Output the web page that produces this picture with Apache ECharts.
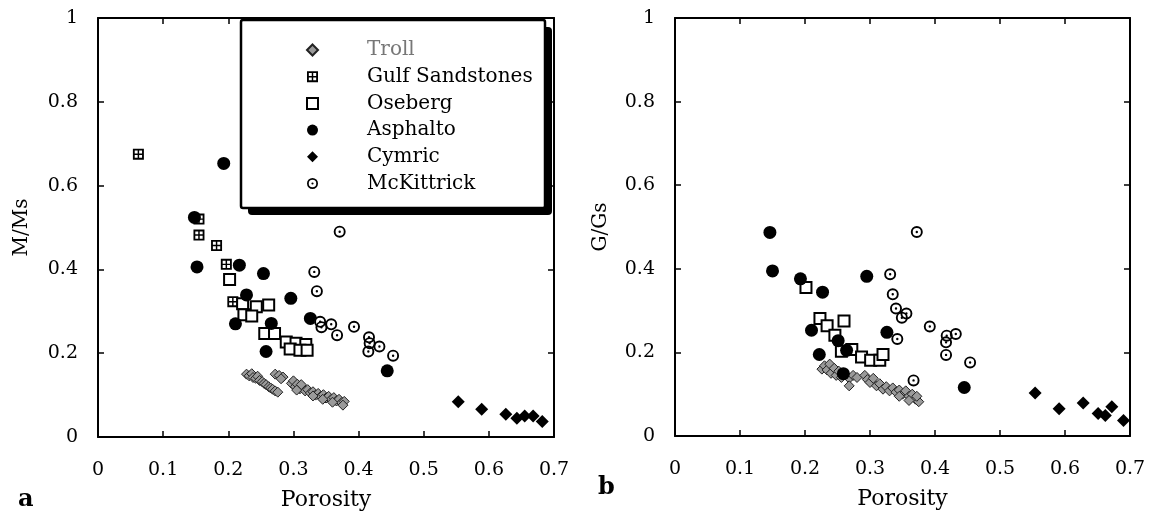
<!DOCTYPE html>
<html><head><meta charset="utf-8">
<script src="https://cdn.jsdelivr.net/npm/echarts@6/dist/echarts.min.js"></script>
<style>html,body{margin:0;padding:0;background:#fff}#c{width:1150px;height:518px}</style>
</head><body><div id="c"></div>
<script>
// ---- tick labels ----
const xTickLabels = ['0','0.1','0.2','0.3','0.4','0.5','0.6','0.7'];
const yTickLabels = ['0','0.2','0.4','0.6','0.8','1'];
const seriesNames = ['Troll','Gulf Sandstones','Oseberg','Asphalto','Cymric','McKittrick'];

// ---- panel a : M/Ms vs porosity ----
const trollA = [[0.228,0.150],[0.232,0.146],[0.236,0.151],[0.238,0.142],[0.242,0.140],[0.245,0.145],[0.248,0.135],[0.252,0.132],[0.255,0.128],[0.258,0.125],[0.262,0.120],[0.265,0.117],[0.268,0.114],[0.272,0.110],[0.276,0.107],[0.272,0.150],[0.278,0.147],[0.284,0.143],[0.281,0.139],[0.297,0.128],[0.300,0.134],[0.303,0.120],[0.306,0.126],[0.310,0.115],[0.314,0.119],[0.318,0.110],[0.322,0.113],[0.326,0.105],[0.330,0.108],[0.334,0.100],[0.338,0.104],[0.342,0.097],[0.346,0.101],[0.350,0.093],[0.354,0.097],[0.358,0.090],[0.362,0.094],[0.366,0.086],[0.370,0.090],[0.374,0.082],[0.378,0.085],[0.376,0.076],[0.360,0.083],[0.345,0.090],[0.330,0.098],[0.312,0.125],[0.305,0.112]];
const gulfA = [[0.062,0.675],[0.155,0.520],[0.155,0.482],[0.182,0.457],[0.197,0.412],[0.207,0.323]];
const osebergA = [[0.202,0.376],[0.222,0.318],[0.243,0.311],[0.262,0.315],[0.224,0.292],[0.236,0.289],[0.256,0.247],[0.271,0.247],[0.289,0.227],[0.304,0.224],[0.319,0.221],[0.295,0.210],[0.310,0.207],[0.321,0.207]];
const asphaltoA = [[0.148,0.524],[0.193,0.653],[0.152,0.406],[0.217,0.410],[0.254,0.390],[0.228,0.339],[0.296,0.331],[0.211,0.270],[0.266,0.271],[0.326,0.283],[0.258,0.204],[0.444,0.158]];
const cymricA = [[0.553,0.084],[0.589,0.066],[0.626,0.054],[0.643,0.045],[0.655,0.050],[0.668,0.050],[0.682,0.037]];
const mckA = [[0.371,0.490],[0.332,0.394],[0.336,0.348],[0.341,0.275],[0.343,0.262],[0.358,0.269],[0.367,0.243],[0.393,0.263],[0.416,0.238],[0.417,0.224],[0.415,0.204],[0.432,0.216],[0.453,0.194]];

// ---- panel b : G/Gs vs porosity ----
const trollB = [[0.226,0.160],[0.230,0.168],[0.234,0.158],[0.238,0.172],[0.240,0.150],[0.245,0.162],[0.248,0.145],[0.252,0.155],[0.256,0.140],[0.262,0.148],[0.268,0.138],[0.274,0.145],[0.280,0.140],[0.268,0.120],[0.292,0.145],[0.296,0.135],[0.300,0.128],[0.305,0.138],[0.310,0.120],[0.315,0.125],[0.320,0.112],[0.325,0.118],[0.330,0.108],[0.335,0.115],[0.340,0.105],[0.345,0.110],[0.350,0.100],[0.355,0.108],[0.360,0.095],[0.365,0.100],[0.370,0.088],[0.375,0.082],[0.360,0.085],[0.345,0.095],[0.372,0.095]];
const osebergB = [[0.2015,0.355],[0.223,0.281],[0.234,0.264],[0.260,0.275],[0.246,0.241],[0.256,0.203],[0.272,0.207],[0.287,0.189],[0.301,0.181],[0.315,0.181],[0.320,0.195]];
const asphaltoB = [[0.146,0.487],[0.150,0.395],[0.193,0.376],[0.227,0.344],[0.295,0.382],[0.210,0.253],[0.326,0.248],[0.222,0.195],[0.264,0.205],[0.251,0.228],[0.259,0.149],[0.445,0.116]];
const cymricB = [[0.554,0.103],[0.591,0.065],[0.628,0.079],[0.651,0.054],[0.662,0.049],[0.672,0.070],[0.690,0.037]];
const mckB = [[0.372,0.488],[0.331,0.387],[0.335,0.339],[0.340,0.305],[0.356,0.293],[0.349,0.283],[0.342,0.232],[0.392,0.262],[0.418,0.240],[0.417,0.224],[0.417,0.194],[0.432,0.244],[0.454,0.176],[0.367,0.133]];

const FONT = 'DejaVu Serif';
const GULF_PATH = 'path://M0 0H12V12H0Z M2 2V5.2H5.2V2Z M6.8 2V5.2H10V2Z M2 6.8V10H5.2V6.8Z M6.8 6.8V10H10V6.8Z';
const MCK_PATH = 'path://M0 6A6 6 0 1 0 12 6A6 6 0 1 0 0 6Z M1.9 6A4.1 4.1 0 1 1 10.1 6A4.1 4.1 0 1 1 1.9 6Z M4.8 6A1.2 1.2 0 1 0 7.2 6A1.2 1.2 0 1 0 4.8 6Z';

const xMin = +xTickLabels[0], xMax = +xTickLabels[xTickLabels.length-1];
const yMin = +yTickLabels[0], yMax = +yTickLabels[yTickLabels.length-1];

function xAx(grid, show, pos, name) {
  return {
    type:'value', gridIndex:grid, position:pos, min:xMin, max:xMax, interval:0.1,
    name: name||'', nameLocation:'middle', nameGap:52,
    nameTextStyle:{fontFamily:FONT, fontSize:22, color:'#000'},
    axisLine:{show:true, onZero:false, lineStyle:{color:'#000', width:2}},
    axisTick:{show:true, inside:true, length:6, lineStyle:{color:'#000', width:1.5}},
    axisLabel:{show:show, margin:24, fontFamily:FONT, fontSize:19, color:'#000',
      formatter:(v)=>xTickLabels[Math.round(v*10)]},
    splitLine:{show:false}
  };
}
function yAx(grid, show, pos, name, gap) {
  return {
    type:'value', gridIndex:grid, position:pos, min:yMin, max:yMax, interval:0.2,
    name: name||'', nameLocation:'middle', nameGap:gap||60,
    nameTextStyle:{fontFamily:FONT, fontSize:20, color:'#000'},
    axisLine:{show:true, onZero:false, lineStyle:{color:'#000', width:2}},
    axisTick:{show:true, inside:true, length:6, lineStyle:{color:'#000', width:1.5}},
    axisLabel:{show:show, margin:20, fontFamily:FONT, fontSize:19, color:'#000',
      formatter:(v)=>yTickLabels[Math.round(v*5)]},
    splitLine:{show:false}
  };
}

function panelSeries(xi, yi, d) {
  const base = {type:'scatter', xAxisIndex:xi, yAxisIndex:yi, emphasis:{disabled:true}, silent:true, symbolKeepAspect:true};
  const out = [];
  out.push(Object.assign({}, base, {name:'Troll', data:d.troll, symbol:'diamond', symbolSize:10,
    itemStyle:{color:'#9a9a9a', borderColor:'#222', borderWidth:1, opacity:1}}));
  if (d.gulf) {
    out.push(Object.assign({}, base, {name:'_gbg', data:d.gulf, symbol:'rect', symbolSize:11, itemStyle:{color:'#fff', opacity:1}}));
    out.push(Object.assign({}, base, {name:'Gulf Sandstones', data:d.gulf, symbol:GULF_PATH, symbolSize:11, itemStyle:{color:'#000', opacity:1}}));
  }
  out.push(Object.assign({}, base, {name:'Oseberg', data:d.ose, symbol:'rect', symbolSize:11,
    itemStyle:{color:'#fff', borderColor:'#000', borderWidth:2, opacity:1}}));
  out.push(Object.assign({}, base, {name:'Asphalto', data:d.asph, symbol:'circle', symbolSize:13, itemStyle:{color:'#000', opacity:1}}));
  out.push(Object.assign({}, base, {name:'Cymric', data:d.cym, symbol:'diamond', symbolSize:13, itemStyle:{color:'#000', opacity:1}}));
  out.push(Object.assign({}, base, {name:'_mbg', data:d.mck, symbol:'circle', symbolSize:11, itemStyle:{color:'#fff', opacity:1}}));
  out.push(Object.assign({}, base, {name:'McKittrick', data:d.mck, symbol:MCK_PATH, symbolSize:12, itemStyle:{color:'#000', opacity:1}}));
  return out;
}

const chart = echarts.init(document.getElementById('c'), null, {renderer:'canvas'});
chart.setOption({
  animation:false,
  backgroundColor:'#fff',
  grid:[
    {left:98, right:596, top:18, bottom:81},
    {left:675, right:20, top:18, bottom:82}
  ],
  xAxis:[ xAx(0,true,'bottom','Porosity'), xAx(0,false,'top'), xAx(1,true,'bottom','Porosity'), xAx(1,false,'top') ],
  yAxis:[ yAx(0,true,'left','M/Ms',66), yAx(0,false,'right'), yAx(1,true,'left','G/Gs',64), yAx(1,false,'right') ],
  legend:{
    orient:'vertical', left:301, top:35, itemWidth:11, itemHeight:11, itemGap:6.7,
    selectedMode:false,
    data:[
      {name:'Troll', textStyle:{color:'#777'}},
      {name:'Gulf Sandstones'},{name:'Oseberg'},{name:'Asphalto'},{name:'Cymric'},{name:'McKittrick'}
    ],
    formatter:(n)=>'{s|}' + n,
    textStyle:{fontFamily:FONT, fontSize:20, color:'#000', lineHeight:20, rich:{s:{width:44}}},
    z:10
  },
  graphic:[
    {type:'rect', z:5, shape:{x:248, y:27, width:304, height:188, r:4}, style:{fill:'#000'}},
    {type:'rect', z:6, shape:{x:241, y:20, width:304, height:188, r:2}, style:{fill:'#fff', stroke:'#000', lineWidth:2.5}},
    {type:'text', left:18, top:488, style:{text:'a', fontFamily:FONT, fontSize:24, fontWeight:'bold', fill:'#000'}},
    {type:'text', left:598, top:476, style:{text:'b', fontFamily:FONT, fontSize:24, fontWeight:'bold', fill:'#000'}}
  ],
  series:[].concat(
    panelSeries(0,0,{troll:trollA, gulf:gulfA, ose:osebergA, asph:asphaltoA, cym:cymricA, mck:mckA}),
    panelSeries(2,2,{troll:trollB, ose:osebergB, asph:asphaltoB, cym:cymricB, mck:mckB})
  )
});
</script>
</body></html>
